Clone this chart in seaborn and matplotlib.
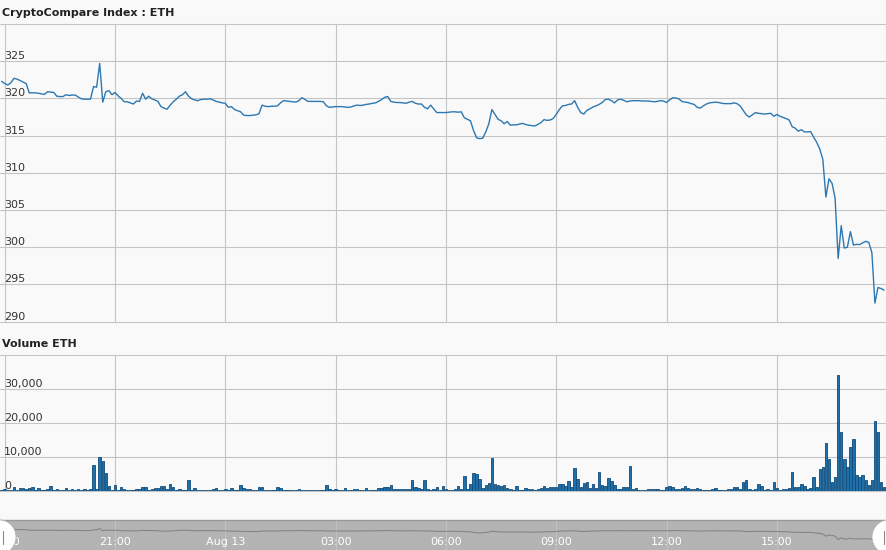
import pandas as pd
import seaborn as sns
import matplotlib.pyplot as plt
from matplotlib.patches import Ellipse
from matplotlib.lines import Line2D

# 5-minute points, 2017-08-12 17:55 .. 2017-08-13 17:55
START = "2017-08-12 17:55"

price = [
    322.3,
    # 18:00
    322.0, 321.8, 322.1, 322.7, 322.6, 322.4, 322.2, 322.0, 320.75, 320.75, 320.75, 320.7,
    # 19:00
    320.6, 320.55, 320.9, 320.85, 320.8, 320.3, 320.25, 320.25, 320.5, 320.4, 320.45, 320.45,
    # 20:00
    320.2, 319.95, 319.9, 319.9, 319.9, 321.6, 321.5, 324.7, 319.5, 320.9, 321.05, 320.5,
    # 21:00
    320.8, 320.35, 320.0, 319.55, 319.55, 319.4, 319.25, 319.65, 319.6, 320.7, 319.9, 320.3,
    # 22:00
    319.95, 319.8, 319.6, 318.9, 318.7, 318.55, 319.1, 319.55, 319.9, 320.3, 320.5, 320.9,
    # 23:00
    320.3, 319.95, 319.8, 319.7, 319.85, 319.9, 319.9, 319.95, 319.8, 319.6, 319.5, 319.4,
    # 00:00
    319.35, 318.8, 318.9, 318.5, 318.35, 318.2, 317.75, 317.7, 317.7, 317.75, 317.8, 317.95,
    # 01:00
    319.1, 318.95, 318.9, 318.95, 318.95, 319.0, 319.4, 319.7, 319.65, 319.6, 319.55, 319.5,
    # 02:00
    319.7, 320.1, 319.85, 319.6, 319.6, 319.6, 319.6, 319.6, 319.55, 319.0, 318.8, 318.85,
    # 03:00
    318.9, 318.9, 318.9, 318.85, 318.8, 318.85, 319.0, 319.1, 319.05, 319.1, 319.2, 319.25,
    # 04:00
    319.35, 319.4, 319.6, 319.85, 320.15, 320.25, 319.6, 319.5, 319.45, 319.45, 319.4, 319.35,
    # 05:00
    319.5, 319.6, 319.35, 319.25, 319.25, 318.8, 318.6, 319.1, 318.6, 318.1, 318.1, 318.1,
    # 06:00
    318.1, 318.15, 318.2, 318.2, 318.15, 318.2, 317.4, 317.2, 317.0, 315.7, 314.7, 314.6,
    # 07:00
    314.65, 315.5, 316.6, 318.5, 317.85, 317.2, 317.0, 316.6, 316.9, 316.4, 316.45, 316.45,
    # 08:00
    316.55, 316.65, 316.5, 316.4, 316.35, 316.3, 316.5, 316.75, 317.15, 317.05, 317.1, 317.3,
    # 09:00
    317.85, 318.5, 319.0, 319.05, 319.2, 319.25, 319.7, 318.8, 318.1, 317.9, 318.4, 318.6,
    # 10:00
    318.85, 319.0, 319.2, 319.45, 319.85, 319.9, 319.7, 319.4, 319.8, 319.9, 319.75, 319.55,
    # 11:00
    319.65, 319.7, 319.7, 319.7, 319.65, 319.65, 319.65, 319.6, 319.55, 319.6, 319.7, 319.65,
    # 12:00
    319.45, 319.8, 320.1, 320.05, 319.95, 319.6, 319.5, 319.45, 319.3, 319.2, 318.8, 318.7,
    # 13:00
    319.0, 319.25, 319.4, 319.45, 319.5, 319.45, 319.35, 319.3, 319.3, 319.3, 319.4, 319.3,
    # 14:00
    319.0, 318.4, 317.8, 317.5, 317.8, 318.1, 318.0, 317.95, 317.9, 317.95, 318.0, 317.6,
    # 15:00
    317.85, 317.6, 317.45, 317.3, 317.1, 316.2, 316.0, 315.6, 315.8, 315.5, 315.5, 315.55,
    # 16:00
    314.8, 314.1, 313.2, 311.8, 306.75, 309.2, 308.6, 306.6, 298.5, 302.9, 299.9, 300.0,
    # 17:00
    302.1, 300.3, 300.4, 300.35, 300.6, 300.8, 300.65, 299.3, 292.5, 294.6, 294.45, 294.25,
]

volume = [
    300,
    600, 300, 300, 1300, 400, 1100, 900, 800, 1100, 1400, 300, 900,
    300, 300, 600, 1600, 300, 700, 300, 300, 900, 300, 700, 300,
    700, 300, 700, 300, 700, 7700, 700, 10100, 8900, 5400, 1600, 400,
    1900, 400, 1200, 700, 300, 300, 300, 700, 700, 1300, 1300, 300,
    700, 900, 900, 1600, 1600, 800, 2200, 1200, 300, 700, 300, 300,
    3300, 500, 1000, 300, 300, 300, 300, 250, 700, 1000, 300, 300,
    600, 300, 1000, 300, 300, 1900, 1000, 700, 700, 300, 300, 1300,
    1300, 300, 300, 300, 300, 1300, 900, 300, 300, 250, 250, 400,
    600, 300, 300, 300, 250, 300, 300, 300, 300, 1800, 600, 500,
    600, 300, 300, 900, 300, 300, 600, 600, 300, 300, 900, 300,
    300, 300, 900, 900, 1300, 1300, 1800, 600, 600, 600, 600, 600,
    600, 3200, 1300, 900, 600, 3200, 600, 300, 600, 1200, 300, 1500,
    600, 300, 300, 600, 1500, 600, 4500, 600, 2200, 5300, 5100, 3500,
    900, 1800, 2400, 9700, 2200, 1900, 1600, 1900, 900, 600, 300, 1600,
    300, 300, 900, 600, 600, 300, 600, 900, 1600, 900, 1300, 1300,
    1300, 2000, 2200, 1600, 3100, 1300, 6800, 3600, 1200, 2400, 2700, 1000,
    2200, 1000, 5700, 1900, 1700, 3800, 3000, 1900, 800, 600, 1400, 1400,
    7400, 600, 900, 300, 300, 300, 600, 600, 600, 600, 300, 300,
    1400, 1600, 1200, 600, 600, 1000, 1600, 1000, 600, 600, 900, 600,
    300, 300, 300, 600, 900, 300, 300, 300, 600, 600, 1200, 1200,
    600, 2600, 3200, 600, 400, 600, 2100, 1600, 400, 600, 400, 2600,
    900, 400, 600, 600, 900, 5700, 1300, 1300, 2200, 1600, 700, 1000,
    4200, 1400, 6600, 7200, 14100, 9500, 2600, 4200, 34200, 17300, 9500, 7200,
    13000, 15400, 4700, 4200, 4700, 3200, 1900, 3200, 20700, 17300, 2600, 1200,
]

price_ticks = [290, 295, 300, 305, 310, 315, 320, 325]
volume_ticks = [0, 10000, 20000, 30000]
nav_labels = ["18:00", "21:00", "Aug 13", "03:00", "06:00", "09:00", "12:00", "15:00"]

BG = "#f9f9f9"
GRID = "#c4c4c4"
LINE = "#2c78b2"
BAR = "#1f6fa8"
BAR_EDGE = "#0f4c7c"

df = pd.DataFrame({
    "time": pd.date_range(START, periods=len(price), freq="5min"),
    "price": price,
    "volume": volume,
})
grid_times = pd.date_range("2017-08-12 18:00", periods=len(nav_labels), freq="3h")
x0, x1 = pd.Timestamp("2017-08-12 17:52:20"), pd.Timestamp("2017-08-13 17:59:42")

sns.set_theme(style="whitegrid")
plt.rcParams["font.family"] = ["DejaVu Sans"]

W, H = 887, 550
fig = plt.figure(figsize=(W / 100, H / 100), dpi=100, facecolor=BG)


def px_axes(left, top, right, bottom):
    return fig.add_axes([left / W, 1 - bottom / H, (right - left) / W, (bottom - top) / H])


def style_panel(ax, ticks, top, fmt):
    ax.set_facecolor(BG)
    ax.set_xlim(x0, x1)
    ax.set_ylim(ticks[0], top)
    ax.set_yticks(list(ticks) + [top])
    ax.set_xticks(grid_times)
    ax.grid(True, color=GRID, linewidth=0.8)
    for gl in ax.get_ygridlines() + ax.get_xgridlines():
        gl.set_clip_on(False)
    ax.tick_params(labelbottom=False, labelleft=False, length=0)
    for s in ax.spines.values():
        s.set_visible(False)
    ax.set_xlabel("")
    ax.set_ylabel("")
    for t in ticks:
        ax.annotate(fmt(t), xy=(0, t), xycoords=("axes fraction", "data"),
                    xytext=(4, 2), textcoords="offset pixels",
                    ha="left", va="baseline", fontsize=8, color="#333333")


# price panel
ax_p = px_axes(0, 24, 887, 321.7)
sns.lineplot(data=df, x="time", y="price", ax=ax_p, color=LINE, linewidth=1.0, estimator=None)
style_panel(ax_p, price_ticks, 330, lambda v: f"{v}")

# volume panel
ax_v = px_axes(0, 355, 887, 491.3)
ax_v.bar(df["time"], df["volume"], width=4 / 1440, color=BAR, edgecolor=BAR_EDGE, linewidth=0.6)
style_panel(ax_v, volume_ticks, 40000, lambda v: f"{v:,}")

fig.text(2 / W, 1 - 13 / H, "CryptoCompare Index : ETH", fontsize=8, fontweight="bold",
         color="#222222", ha="left", va="center")
fig.text(2 / W, 1 - 344 / H, "Volume ETH", fontsize=8, fontweight="bold",
         color="#222222", ha="left", va="center")

# navigator
ax_n = px_axes(0, 520, 887, 550)
ax_n.set_facecolor("#b3b3b3")
sns.lineplot(data=df, x="time", y="price", ax=ax_n, color="#858585", linewidth=0.8, estimator=None)
ax_n.set_xlim(x0, x1)
ax_n.set_ylim(274, 345)
ax_n.set_xticks(grid_times)
ax_n.set_yticks([])
ax_n.grid(True, axis="x", color="#c6c6c6", linewidth=0.6)
ax_n.grid(False, axis="y")
ax_n.tick_params(labelbottom=False, labelleft=False, length=0)
ax_n.set_xlabel("")
ax_n.set_ylabel("")
for name, s in ax_n.spines.items():
    s.set_visible(name == "top")
ax_n.spines["top"].set_color("#9a9a9a")
ax_n.spines["top"].set_linewidth(1.0)
for t, lab in zip(grid_times, nav_labels):
    ax_n.text(t, 0.27, lab, transform=ax_n.get_xaxis_transform(), ha="center", va="center",
              fontsize=8, color="white")

# navigator handles
for cx, lx in [(0, 3), (888, 884)]:
    fig.add_artist(Ellipse((cx / W, 1 - 537 / H), 32 / W, 34 / H, transform=fig.transFigure,
                           facecolor="white", edgecolor="#b0b0b0", linewidth=0.6))
    fig.add_artist(Line2D([lx / W, lx / W], [1 - 531 / H, 1 - 544 / H], transform=fig.transFigure,
                          color="#8a8a8a", linewidth=0.8))

fig.savefig("out.png", dpi=100, facecolor=BG)
